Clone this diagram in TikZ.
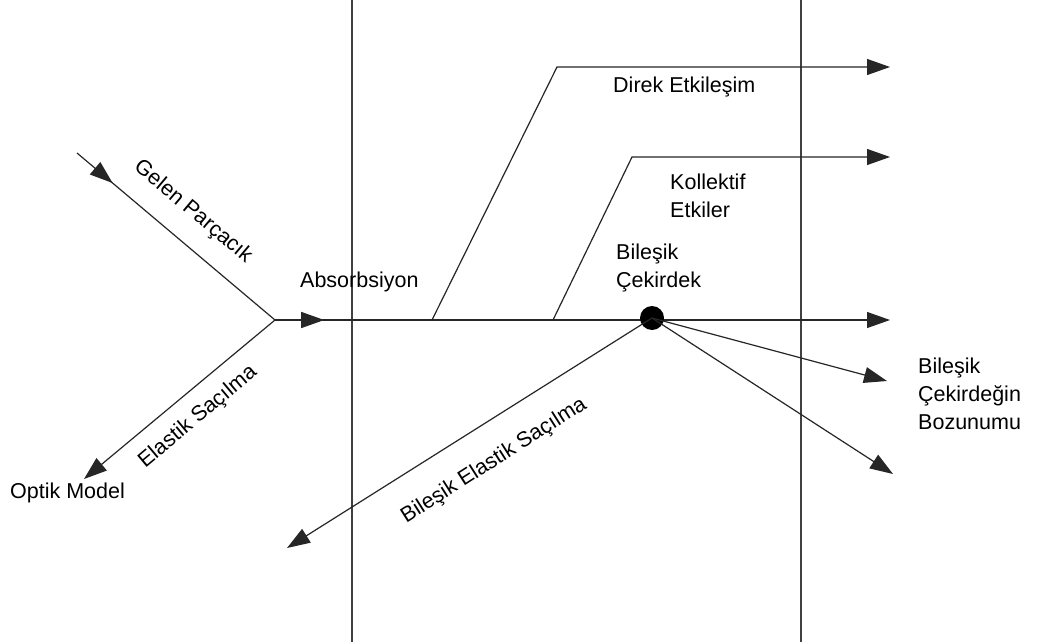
\documentclass[tikz,border=0pt]{standalone}
\usepackage{fontspec}
\setmainfont{Liberation Sans}
\usetikzlibrary{arrows.meta,decorations.markings}
\begin{document}
\begin{tikzpicture}[x=1pt,y=-1pt,
  ln/.style={line width=1.2pt,black!85},
  vline/.style={line width=1.6pt,black!75},
  tipx/.style={-{Triangle[length=23pt,width=16pt]}},
  lbl/.style={font=\fontsize{21.5}{28}\selectfont,inner sep=0pt,align=left},
  midarrow/.style={postaction={decorate},decoration={markings,mark=at position #1 with {\arrow{Triangle[length=23pt,width=16pt]}}}}
]
\useasboundingbox (0,0) rectangle (1038,642);
\fill[white] (0,0) rectangle (1038,642);
% coordinates
\coordinate (G0) at (77,153);
\coordinate (J) at (275,320);
\coordinate (EL) at (84,479);
\coordinate (E0) at (890,320);
\coordinate (B1a) at (432,320);
\coordinate (B1b) at (557,67);
\coordinate (B1c) at (890,67);
\coordinate (B2a) at (553,320);
\coordinate (B2b) at (632,157);
\coordinate (B2c) at (890,157);
\coordinate (D1) at (887,381);
\coordinate (D2) at (893,474);
\coordinate (CE) at (287,548);
\coordinate (V1t) at (352,0);
\coordinate (V1b) at (352,642);
\coordinate (V2t) at (801,0);
\coordinate (V2b) at (801,642);
% vertical lines
\draw[vline] (V1t) -- (V1b);
\draw[vline] (V2t) -- (V2b);
% main lines
\draw[ln,midarrow=0.18] (G0) -- (J);
\draw[ln,tipx] (J) -- (EL);
\draw[ln,tipx,midarrow=0.08] (J) -- (E0);
\draw[ln,tipx] (B1a) -- (B1b) -- (B1c);
\draw[ln,tipx] (B2a) -- (B2b) -- (B2c);
\node[circle,fill=black,minimum size=24pt,inner sep=0pt] (dot) at (652,318) {};
\draw[ln,tipx] (dot.center) -- (D1);
\draw[ln,tipx] (dot.center) -- (D2);
\draw[ln,tipx] (dot.center) -- (CE);
% labels
\node[lbl,anchor=west] (abs) at (300,282) {Absorbsiyon};
\node[lbl,anchor=west] (dir) at (613,87) {Direk Etkileşim};
\node[lbl,anchor=west] (kol) at (670,196) {Kollektif\\Etkiler};
\node[lbl,anchor=west] (bc) at (616,268) {Bileşik\\Çekirdek};
\node[lbl,anchor=west] (om) at (10,493) {Optik Model};
\node[lbl,anchor=west] (bcb) at (918,394) {Bileşik\\Çekirdeğin\\Bozunumu};
\node[lbl,rotate=-40] (gp) at (193,212) {Gelen Parçacık};
\node[lbl,rotate=40] (es) at (198,417) {Elastik Saçılma};
\node[lbl,rotate=32.5] (bes) at (494,461) {Bileşik Elastik Saçılma};
\end{tikzpicture}
\end{document}
